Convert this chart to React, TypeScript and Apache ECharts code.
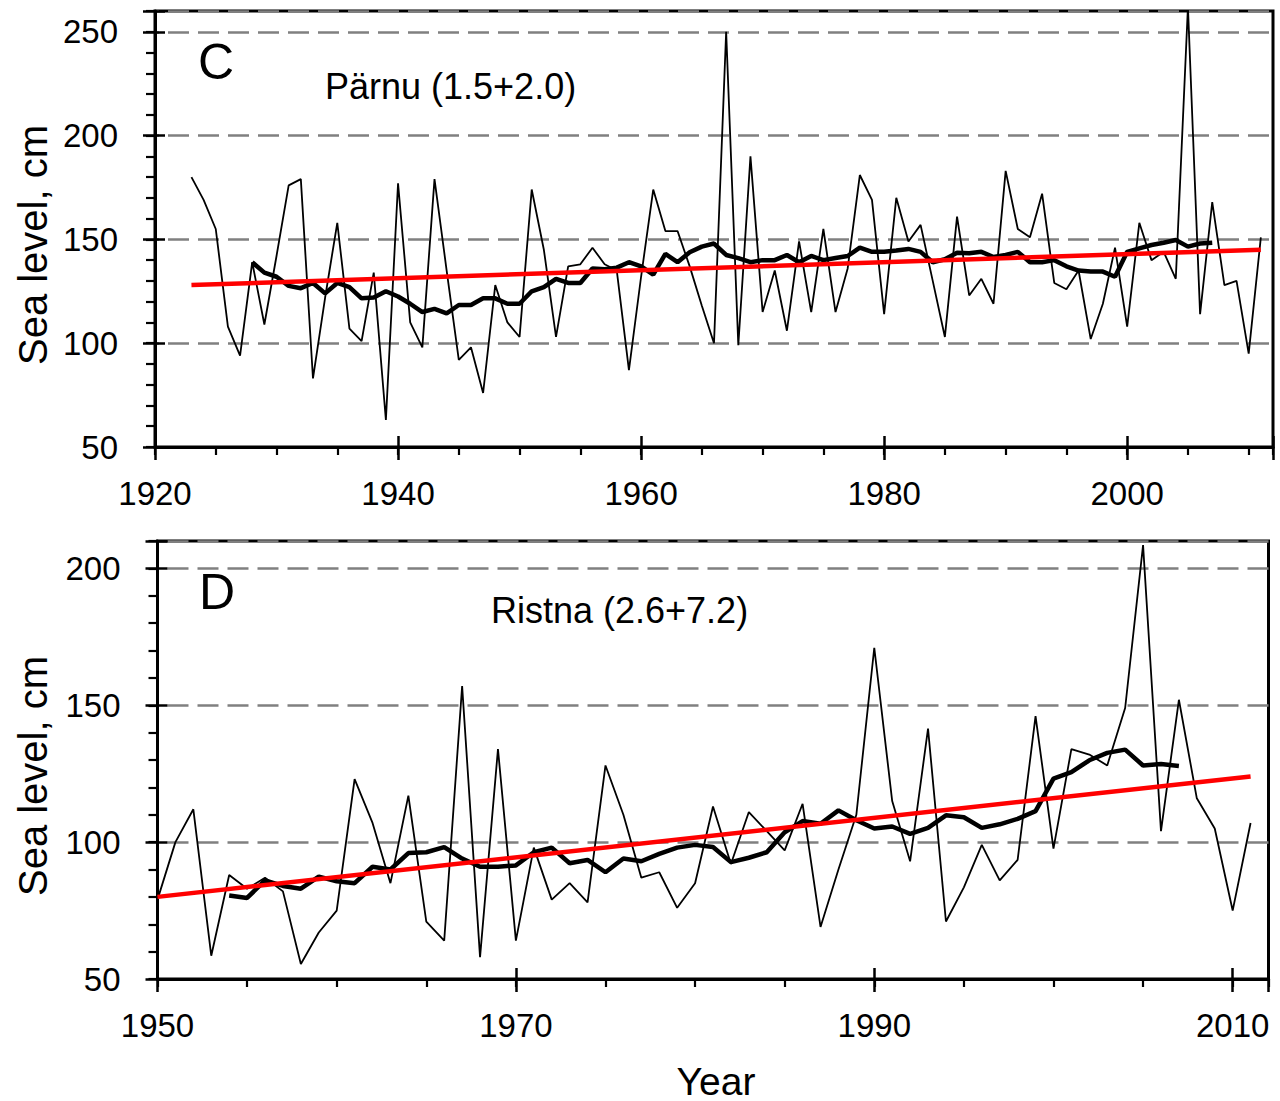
import React, { useEffect, useRef } from 'react';
import * as echarts from 'echarts';

const FONT = "'Liberation Sans', Arial, Helvetica, sans-serif";

// ---- Panel C: Pärnu ----
const parnuStartYear = 1923;
const parnuAnnual = [
  180, 169, 155, 108, 94, 139, 109, 142, 176, 179,
  83, 122, 158, 107, 101, 134, 63, 177, 110, 98,
  179, 135, 92, 98, 76, 128, 110, 103, 174, 145,
  103, 137, 138, 146, 138, 135, 87, 132, 174, 154,
  154, 137, 118, 100, 250, 99, 190, 115, 135, 106,
  149, 115, 155, 115, 136, 181, 169, 114, 170, 149,
  157, 130, 103, 161, 123, 131, 119, 183, 155, 151,
  172, 129, 126, 135, 102, 119, 146, 108, 158, 140,
  144, 131, 262, 114, 168, 128, 130, 95, 151,
];
const parnuSmoothStartYear = 1928;
const parnuSmooth = [
  139, 134, 132, 127.6, 126.5, 129, 124, 129, 127, 121.6,
  122, 125, 122.5, 119, 115, 116.5, 114.4, 118.4, 118.4, 121.6,
  121.6, 119, 119, 125, 127, 131, 129, 129, 136, 135.6,
  136.4, 139, 137, 133, 143, 139, 143.8, 146.5, 148, 142.5,
  141, 139, 140, 140, 142.5, 139, 142, 140, 141, 142,
  146, 144, 144, 144.6, 145.4, 144, 139, 140.4, 143.6, 143.3,
  144, 141.5, 142.5, 144, 139, 139, 140, 137, 135, 134.5,
  134.5, 132, 144, 145.7, 147.3, 148.4, 149.7, 146.5, 148, 148.4,
];
const parnuTrendYears = [1923, 2011];
const parnuTrendValues = [128, 145];

// ---- Panel D: Ristna ----
const ristnaStartYear = 1950;
const ristnaAnnual = [
  79, 100, 112, 58.5, 88, 83, 87, 82, 55.5, 67,
  75, 123, 107, 85, 117, 71, 64, 157, 58, 134,
  64, 98, 79, 85, 78, 128, 110, 87, 89, 76,
  85, 113, 92, 111, 104, 97, 114, 69, 90, 110,
  171, 115, 93, 141.5, 71, 83.5, 99, 86, 93.5, 146,
  97.6, 134, 132, 128, 149, 208.5, 104, 152, 116, 105,
  75, 107,
];
const ristnaSmoothStartYear = 1954;
const ristnaSmooth = [
  80.5, 79.6, 86, 84, 83, 87.4, 85.7, 85, 91, 90,
  96, 96.3, 98.2, 94, 91, 91, 91.5, 96.3, 98, 92.3,
  93.5, 89, 94, 93, 95.7, 98, 99, 98.2, 92.7, 94.3,
  96.3, 103.6, 107.7, 106.7, 111.6, 108, 105, 105.7, 103, 105.2,
  109.8, 109.1, 105.2, 106.5, 108.5, 111.3, 123.2, 125.6, 129.9, 132.6,
  133.8, 128, 128.5, 127.8,
];
const ristnaTrendYears = [1950, 2011];
const ristnaTrendValues = [80, 124];

// ---- Axis ranges / ticks ----
const topXRange = [1920, 2012];
const topYRange = [50, 260];
const botXRange = [1950, 2012];
const botYRange = [50, 210];
const xMajorStep = 20;
const xMinorStep = 5;
const yMajorStep = 50;
const yMinorStep = 10;

const pairs = (start: number, vals: number[]) => vals.map((v, i) => [start + i, v]);
const zipPairs = (xs: number[], ys: number[]) => xs.map((x, i) => [x, ys[i]]);

function xAxesFor(gi: number, range: number[]) {
  const base = { type: 'value', gridIndex: gi, position: 'bottom', min: range[0], max: range[1] };
  return [
    {
      ...base,
      interval: xMajorStep,
      axisLine: { show: true, onZero: false, lineStyle: { color: '#000', width: 3 } },
      axisTick: { show: true, inside: false, length: 13, lineStyle: { color: '#000', width: 2.5 } },
      axisLabel: {
        show: true, margin: 30, fontSize: 33, color: '#000', fontFamily: FONT,
        formatter: (v: number) => ((v - range[0]) % xMajorStep === 0 ? String(v) : ''),
      },
      splitLine: { show: false },
    },
    {
      ...base,
      interval: xMajorStep,
      axisLine: { show: false, onZero: false },
      axisTick: { show: true, inside: true, length: 11, lineStyle: { color: '#000', width: 2.5 } },
      axisLabel: { show: false },
      splitLine: { show: false },
    },
    {
      ...base,
      interval: xMinorStep,
      axisLine: { show: false, onZero: false },
      axisTick: { show: true, inside: false, length: 8, lineStyle: { color: '#000', width: 2.2 } },
      axisLabel: { show: false },
      splitLine: { show: false },
    },
  ];
}

function yAxesFor(gi: number, range: number[], dashOffset: number) {
  const base = { type: 'value', gridIndex: gi, position: 'left', min: range[0], max: range[1] };
  return [
    {
      ...base,
      interval: yMajorStep,
      axisLine: { show: true, onZero: false, lineStyle: { color: '#000', width: 3 } },
      axisTick: { show: true, inside: false, length: 12, lineStyle: { color: '#000', width: 2.5 } },
      axisLabel: {
        show: true, margin: 37, fontSize: 33, color: '#000', fontFamily: FONT,
        formatter: (v: number) => ((v - range[0]) % yMajorStep === 0 ? String(v) : ''),
      },
      splitLine: {
        show: true,
        lineStyle: { color: '#808080', width: 2.5, type: [21, 9], dashOffset },
      },
    },
    {
      ...base,
      interval: yMajorStep,
      axisLine: { show: false, onZero: false },
      axisTick: { show: true, inside: true, length: 10, lineStyle: { color: '#000', width: 2.5 } },
      axisLabel: { show: false },
      splitLine: { show: false },
    },
    {
      ...base,
      interval: yMinorStep,
      axisLine: { show: false, onZero: false },
      axisTick: { show: true, inside: false, length: 9, lineStyle: { color: '#000', width: 2.2 } },
      axisLabel: { show: false },
      splitLine: { show: false },
    },
  ];
}

function seriesFor(axisIdx: number, annual: number[][], smooth: number[][], trend: number[][]) {
  return [
    {
      type: 'line', xAxisIndex: axisIdx, yAxisIndex: axisIdx, data: annual,
      symbol: 'none', showSymbol: false, z: 3,
      lineStyle: { color: '#000', width: 1.8 },
    },
    {
      type: 'line', xAxisIndex: axisIdx, yAxisIndex: axisIdx, data: smooth,
      symbol: 'none', showSymbol: false, z: 4,
      lineStyle: { color: '#000', width: 4.5 },
    },
    {
      type: 'line', xAxisIndex: axisIdx, yAxisIndex: axisIdx, data: trend,
      symbol: 'none', showSymbol: false, z: 5,
      lineStyle: { color: '#ff0000', width: 4.5 },
    },
  ];
}

const textStyle = (text: string, size: number, align = 'left') => ({
  text, fill: '#000', font: `${size}px ${FONT}`, align, verticalAlign: 'middle',
});

export default function App() {
  const ref = useRef<HTMLDivElement>(null);

  useEffect(() => {
    if (!ref.current) return;
    const chart = echarts.init(ref.current, undefined, { renderer: 'svg' });
    const option: any = {
      animation: false,
      backgroundColor: '#fff',
      grid: [
        { left: 155, top: 11, width: 1118, height: 436, show: true, borderColor: '#000', borderWidth: 3, backgroundColor: 'transparent' },
        { left: 157.5, top: 541, width: 1111, height: 438, show: true, borderColor: '#000', borderWidth: 3, backgroundColor: 'transparent' },
      ],
      xAxis: [...xAxesFor(0, topXRange), ...xAxesFor(1, botXRange)],
      yAxis: [...yAxesFor(0, topYRange, 17), ...yAxesFor(1, botYRange, 19.5)],
      series: [
        ...seriesFor(
          0,
          pairs(parnuStartYear, parnuAnnual),
          pairs(parnuSmoothStartYear, parnuSmooth),
          zipPairs(parnuTrendYears, parnuTrendValues),
        ),
        ...seriesFor(
          3,
          pairs(ristnaStartYear, ristnaAnnual),
          pairs(ristnaSmoothStartYear, ristnaSmooth),
          zipPairs(ristnaTrendYears, ristnaTrendValues),
        ),
      ],
      graphic: [
        { type: 'text', x: 198, y: 62, style: textStyle('C', 50) },
        { type: 'text', x: 325, y: 86, style: textStyle('Pärnu (1.5+2.0)', 36) },
        { type: 'text', x: 199, y: 592, style: textStyle('D', 50) },
        { type: 'text', x: 491, y: 610, style: textStyle('Ristna (2.6+7.2)', 36) },
        { type: 'text', x: 33, y: 245, rotation: Math.PI / 2, style: textStyle('Sea level, cm', 40, 'center') },
        { type: 'text', x: 33, y: 776, rotation: Math.PI / 2, style: textStyle('Sea level, cm', 40, 'center') },
        { type: 'text', x: 716, y: 1081, style: textStyle('Year', 39, 'center') },
      ],
    };
    chart.setOption(option);
    return () => chart.dispose();
  }, []);

  return (
    <div
      ref={ref}
      style={{ position: 'absolute', left: 0, top: 0, width: 1280, height: 1101, background: '#fff' }}
    />
  );
}
